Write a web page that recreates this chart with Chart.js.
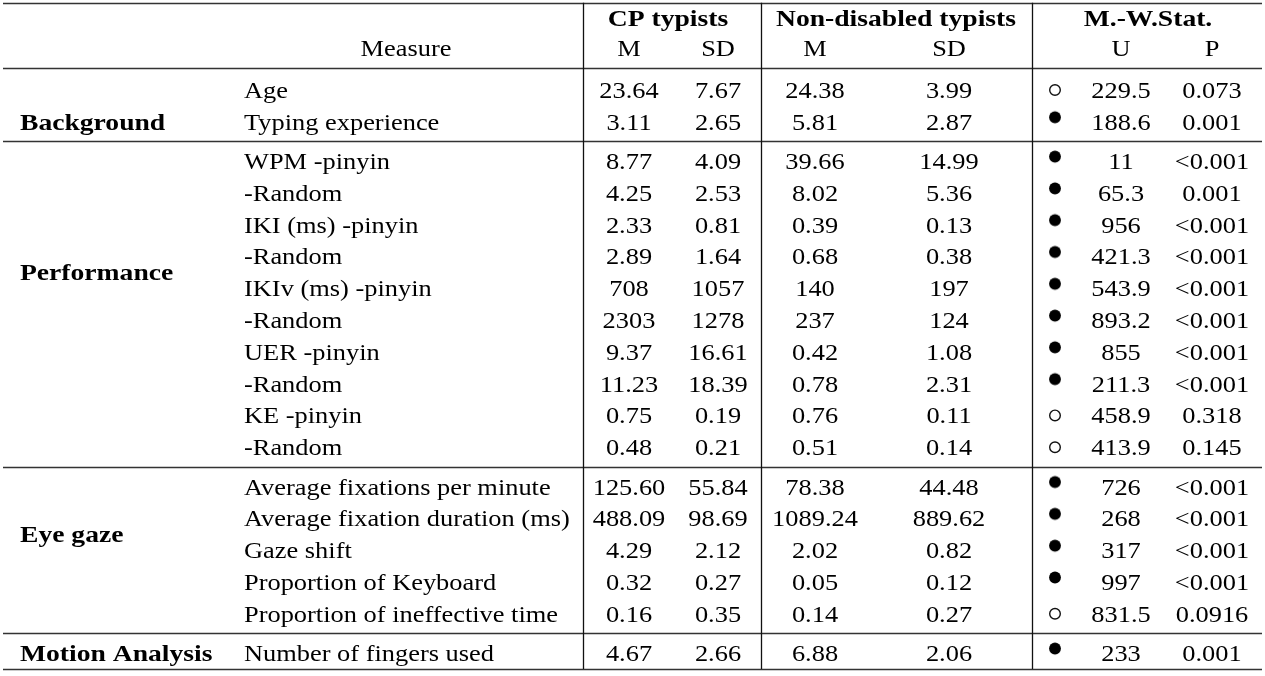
<!DOCTYPE html>
<html>
<head>
<meta charset="utf-8">
<script src="https://cdn.jsdelivr.net/npm/chart.js@4.4.1/dist/chart.umd.min.js"></script>
<style>
  html, body { margin: 0; padding: 0; background: #ffffff; }
  #wrap { width: 1265px; height: 676px; position: relative; }
</style>
</head>
<body>
<div id="wrap"><canvas id="c"></canvas></div>
<script>
// ---------------- DATA ----------------
const groups = ['Background', 'Performance', 'Eye gaze', 'Motion Analysis'];
const measures = [
  'Age', 'Typing experience',
  'WPM -pinyin', '-Random', 'IKI (ms) -pinyin', '-Random', 'IKIv (ms) -pinyin', '-Random',
  'UER -pinyin', '-Random', 'KE -pinyin', '-Random',
  'Average fixations per minute', 'Average fixation duration (ms)', 'Gaze shift',
  'Proportion of Keyboard', 'Proportion of ineffective time',
  'Number of fingers used'
];
const measureGroup = [0,0, 1,1,1,1,1,1,1,1,1,1, 2,2,2,2,2, 3];
const cpMean = ['23.64','3.11','8.77','4.25','2.33','2.89','708','2303','9.37','11.23','0.75','0.48','125.60','488.09','4.29','0.32','0.16','4.67'];
const cpSD   = ['7.67','2.65','4.09','2.53','0.81','1.64','1057','1278','16.61','18.39','0.19','0.21','55.84','98.69','2.12','0.27','0.35','2.66'];
const ndMean = ['24.38','5.81','39.66','8.02','0.39','0.68','140','237','0.42','0.78','0.76','0.51','78.38','1089.24','2.02','0.05','0.14','6.88'];
const ndSD   = ['3.99','2.87','14.99','5.36','0.13','0.38','197','124','1.08','2.31','0.11','0.14','44.48','889.62','0.82','0.12','0.27','2.06'];
const mwU    = ['229.5','188.6','11','65.3','956','421.3','543.9','893.2','855','211.3','458.9','413.9','726','268','317','997','831.5','233'];
const mwP    = ['0.073','0.001','<0.001','0.001','<0.001','<0.001','<0.001','<0.001','<0.001','<0.001','0.318','0.145','<0.001','<0.001','<0.001','<0.001','0.0916','0.001'];
const significant = [0,1, 1,1,1,1,1,1,1,1,0,0, 1,1,1,1,0, 1];
const headerGroups = ['CP typists', 'Non-disabled typists', 'M.-W.Stat.'];
const headerCols = ['Measure', 'M', 'SD', 'M', 'SD', 'U', 'P'];

// ---------------- LAYOUT (positions / styles) ----------------
const X_MIN = 0, X_MAX = 1265;            // x scale range (layout units)
const COL = { group: 20, measure: 244, measureHead: 406, cpM: 629, cpSD: 718, ndM: 815, ndSD: 949,
              sig: 1055, U: 1121, P: 1212, cpHead: 668, ndHead: 896, mwHead: 1148 };
const VLINES = [583, 761, 1032];
const HLINE_X0 = 3, HLINE_X1 = 1262;
const SECTION_GAP = 0.236;               // extra space between sections (row units)
const Y_MIN = -2.83, Y_MAX = 18.43;      // y scale range (row units)
const HEAD_ROW1 = -2.26, HEAD_ROW2 = -1.32, TOP_RULE = -2.74, HEAD_RULE = -0.69;
const BOTTOM_PAD = 0.5;
const groupAnchor = [1, 5.5, 13.5, 17];  // row index where each group label sits
const FONT = '"Liberation Serif", "Times New Roman", serif';
const FSIZE = 24, SX = 1.1, SXB = 1.15, BASE_OFF = 8;

function rowPos(i) { return i + measureGroup[i] * SECTION_GAP; }
function anchorPos(g) { return groupAnchor[g] + g * SECTION_GAP; }

// filled marker drawn slightly above the row centre
const dot = document.createElement('canvas');
dot.width = 16; dot.height = 24;
(function(){ const c = dot.getContext('2d'); c.fillStyle = '#000'; c.beginPath(); c.arc(8, 7.5, 5.9, 0, Math.PI*2); c.fill(); })();

const filledPts = [], openPts = [];
measures.forEach((m, i) => {
  (significant[i] ? filledPts : openPts).push({ x: COL.sig, y: rowPos(i) });
});

function txt(ctx, s, x, y, align, bold) {
  ctx.save();
  ctx.font = (bold ? 'bold ' : '') + FSIZE + 'px ' + FONT;
  ctx.fillStyle = '#000';
  ctx.textAlign = align;
  ctx.textBaseline = 'alphabetic';
  ctx.translate(x, y);
  ctx.scale(bold ? SXB : SX, 1);
  ctx.fillText(s, 0, 0);
  ctx.restore();
}

const tablePlugin = {
  id: 'tablePlugin',
  beforeDatasetsDraw(chart) {
    const ctx = chart.ctx, xs = chart.scales.x, ys = chart.scales.y;
    const px = v => xs.getPixelForValue(v), py = v => ys.getPixelForValue(v);
    const topY = py(TOP_RULE);
    const lastRow = rowPos(measures.length - 1);
    const botY = py(lastRow + BOTTOM_PAD);
    ctx.save();
    const rules = [TOP_RULE, HEAD_RULE];
    for (let i = 1; i < measures.length; i++) {
      if (measureGroup[i] !== measureGroup[i-1]) rules.push((rowPos(i) + rowPos(i-1)) / 2);
    }
    rules.push(lastRow + BOTTOM_PAD);
    ctx.strokeStyle = '#333'; ctx.lineWidth = 1.7;
    rules.forEach(r => { const y = Math.round(py(r)) + 0.5; ctx.beginPath(); ctx.moveTo(px(HLINE_X0), y); ctx.lineTo(px(HLINE_X1), y); ctx.stroke(); });
    ctx.strokeStyle = '#111'; ctx.lineWidth = 1.3;
    VLINES.forEach(v => { const x = Math.round(px(v)) + 0.5; ctx.beginPath(); ctx.moveTo(x, topY); ctx.lineTo(x, botY); ctx.stroke(); });
    ctx.restore();
  },
  afterDatasetsDraw(chart) {
    const ctx = chart.ctx, xs = chart.scales.x, ys = chart.scales.y;
    const px = v => xs.getPixelForValue(v), py = v => ys.getPixelForValue(v) + BASE_OFF;
    txt(ctx, headerGroups[0], px(COL.cpHead), py(HEAD_ROW1), 'center', true);
    txt(ctx, headerGroups[1], px(COL.ndHead), py(HEAD_ROW1), 'center', true);
    txt(ctx, headerGroups[2], px(COL.mwHead), py(HEAD_ROW1), 'center', true);
    const hc = [COL.measureHead, COL.cpM, COL.cpSD, COL.ndM, COL.ndSD, COL.U, COL.P];
    headerCols.forEach((h, k) => txt(ctx, h, px(hc[k]), py(HEAD_ROW2), 'center', false));
    groups.forEach((g, k) => txt(ctx, g, px(COL.group), py(anchorPos(k)), 'left', true));
    measures.forEach((m, i) => {
      const y = py(rowPos(i));
      txt(ctx, m, px(COL.measure), y, 'left', false);
      txt(ctx, cpMean[i], px(COL.cpM), y, 'center', false);
      txt(ctx, cpSD[i], px(COL.cpSD), y, 'center', false);
      txt(ctx, ndMean[i], px(COL.ndM), y, 'center', false);
      txt(ctx, ndSD[i], px(COL.ndSD), y, 'center', false);
      txt(ctx, mwU[i], px(COL.U), y, 'center', false);
      txt(ctx, mwP[i], px(COL.P), y, 'center', false);
    });
  }
};

new Chart(document.getElementById('c'), {
  type: 'scatter',
  data: {
    datasets: [
      { label: 'p < 0.05', data: filledPts, pointStyle: dot, pointRadius: 6, pointHoverRadius: 6 },
      { label: 'n.s.', data: openPts, pointStyle: 'circle', pointRadius: 5.3, pointHoverRadius: 5.3,
        borderColor: '#111', backgroundColor: '#fff', borderWidth: 1.4, pointBorderWidth: 1.4 }
    ]
  },
  options: {
    responsive: true, maintainAspectRatio: false, animation: false,
    layout: { padding: 0, autoPadding: false },
    events: [],
    scales: {
      x: { type: 'linear', min: X_MIN, max: X_MAX, display: false },
      y: { type: 'linear', min: Y_MIN, max: Y_MAX, reverse: true, display: false }
    },
    plugins: { legend: { display: false }, tooltip: { enabled: false } }
  },
  plugins: [tablePlugin]
});
</script>
</body>
</html>
